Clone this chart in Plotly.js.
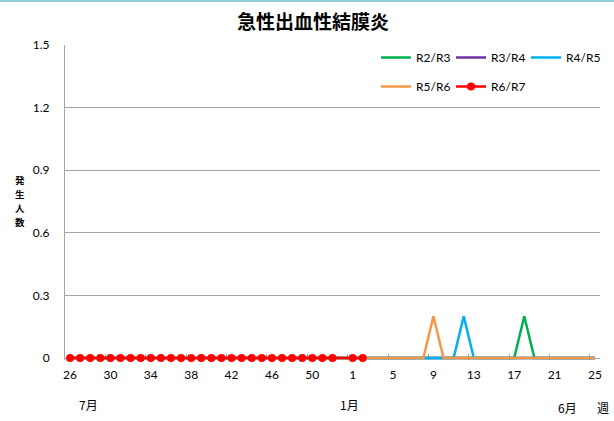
<!DOCTYPE html>
<html>
<head>
<meta charset="utf-8">
<script src="https://cdn.plot.ly/plotly-3.0.1.min.js"></script>
<style>html,body{margin:0;padding:0;background:#fff;}#chart{width:614px;height:421px;}</style>
</head>
<body>
<div id="chart"></div>
<script>
const weeks = ["26","27","28","29","30","31","32","33","34","35","36","37","38","39","40","41","42","43","44","45","46","47","48","49","50","51","52","53","1","2","3","4","5","6","7","8","9","10","11","12","13","14","15","16","17","18","19","20","21","22","23","24","25"];
const tickWeeks = ["26","30","34","38","42","46","50","1","5","9","13","17","21","25"];

const r2r3 = [0,0,0,0,0,0,0,0,0,0, 0,0,0,0,0,0,0,0,0,0, 0,0,0,0,0,0,0,0,0,0, 0,0,0,0,0,0,0,0,0,0, 0,0,0,0,0,0.2,0,0,0,0, 0,0,0];
const r3r4 = [0,0,0,0,0,0,0,0,0,0, 0,0,0,0,0,0,0,0,0,0, 0,0,0,0,0,0,0,0,0,0, 0,0,0,0,0,0,0,0,0,0, 0,0,0,0,0,0,0,0,0,0, 0,0,0];
const r4r5 = [0,0,0,0,0,0,0,0,0,0, 0,0,0,0,0,0,0,0,0,0, 0,0,0,0,0,0,0,0,0,0, 0,0,0,0,0,0,0,0,0,0.2, 0,0,0,0,0,0,0,0,0,0, 0,0,0];
const r5r6 = [0,0,0,0,0,0,0,0,0,0, 0,0,0,0,0,0,0,0,0,0, 0,0,0,0,0,0,0,0,0,0, 0,0,0,0,0,0,0.2,0,0,0, 0,0,0,0,0,0,0,0,0,0, 0,0,0];
const r6r7 = [0,0,0,0,0,0,0,0,0,0, 0,0,0,0,0,0,0,0,0,0, 0,0,0,0,0,0,0,null,0,0, null,null,null,null,null,null,null,null,null,null, null,null,null,null,null,null,null,null,null,null, null,null,null];

const seriesNames = ["R2/R3","R3/R4","R4/R5","R5/R6","R6/R7"];
const monthLabels = ["7月","1月","6月","週"];
const yTitleChars = ["発","生","人","数"];

const L = 65, T = 45, W = 535, H = 315;
const px = v => (v - L) / W;
const py = v => (T + H - v) / H;

const latin = "Lato, 'Noto Sans CJK JP', sans-serif";
const cjk = "'Noto Sans CJK JP', sans-serif";

function lineTrace(name, y, color, legend) {
  return {x: weeks, y: y, name: name, type: 'scatter', mode: 'lines',
    line: {color: color, width: 2.5}, legend: legend, connectgaps: true, cliponaxis: false};
}
const traces = [
  lineTrace(seriesNames[0], r2r3, '#00b050', 'legend'),
  lineTrace(seriesNames[1], r3r4, '#7030a0', 'legend2'),
  lineTrace(seriesNames[2], r4r5, '#00b0f0', 'legend3'),
  lineTrace(seriesNames[3], r5r6, '#f79646', 'legend4'),
  {x: weeks, y: r6r7, name: seriesNames[4], type: 'scatter', mode: 'lines+markers',
   line: {color: '#ff0000', width: 2.5}, marker: {color: '#ff0000', size: 8},
   legend: 'legend5', connectgaps: true, cliponaxis: false}
];

// legend entry: text left edge (px) and row top (px)
function leg(textX, topY) {
  return {x: px(textX - 39), y: py(topY), orientation: 'h', xanchor: 'left', yanchor: 'top',
    font: {family: latin, size: 12, color: '#000'}, bgcolor: 'rgba(0,0,0,0)', itemwidth: 30};
}

function note(text, x, y, size, bold) {
  return {text: text, xref: 'paper', yref: 'paper', x: px(x), y: py(y), showarrow: false,
    xanchor: 'center', yanchor: 'middle',
    font: {family: cjk, size: size, color: '#000', weight: bold ? 700 : 400}};
}

const layout = {
  width: 614, height: 421,
  margin: {l: L, r: 614 - L - W, t: T, b: 421 - T - H, autoexpand: false},
  paper_bgcolor: '#fff', plot_bgcolor: '#fff',
  title: {text: '急性出血性結膜炎', font: {family: cjk, size: 19, color: '#000', weight: 700},
    x: px(313), xref: 'paper', xanchor: 'center', y: 1 - 22/421, yref: 'container', yanchor: 'middle'},
  xaxis: {type: 'category', categoryorder: 'array', categoryarray: weeks,
    range: [-0.5, weeks.length - 0.5], tickmode: 'array', tickvals: tickWeeks, ticktext: tickWeeks,
    tickangle: 0, layer: 'below traces',
    ticks: 'inside', ticklen: 6, tickcolor: '#a6a6a6', tickson: 'boundaries',
    showline: false, showgrid: false, zeroline: false,
    ticklabelstandoff: 6,
    tickfont: {family: latin, size: 12, color: '#000'}, fixedrange: true},
  yaxis: {range: [-0.0096, 1.5], tickmode: 'array', tickvals: [0, 0.3, 0.6, 0.9, 1.2, 1.5],
    ticktext: ["0", "0.3", "0.6", "0.9", "1.2", "1.5"], layer: 'below traces',
    showgrid: true, gridcolor: '#a6a6a6', gridwidth: 1,
    showline: true, linecolor: '#a6a6a6', linewidth: 1, zeroline: false, ticks: '',
    ticklabelstandoff: 12,
    tickfont: {family: latin, size: 12, color: '#000'}, fixedrange: true},
  legend: leg(415, 43),
  legend2: leg(490, 43),
  legend3: leg(565, 43),
  legend4: leg(415, 72),
  legend5: leg(490, 72),
  annotations: [
    note(monthLabels[0], 88, 404, 12, false),
    note(monthLabels[1], 349, 404, 12, false),
    note(monthLabels[2], 567, 408, 12, false),
    note(monthLabels[3], 603, 408, 12, false)
  ].concat(yTitleChars.map((c, i) => note(c, 20, 180 + i * 14, 9.5, true))),
  shapes: [
    {type: 'line', xref: 'paper', yref: 'paper', x0: px(0), x1: px(614), y0: py(1), y1: py(1),
     line: {color: '#8fcfd8', width: 2}}
  ],
  showlegend: true
};

Plotly.newPlot('chart', traces, layout, {staticPlot: true, displayModeBar: false});
</script>
</body>
</html>
